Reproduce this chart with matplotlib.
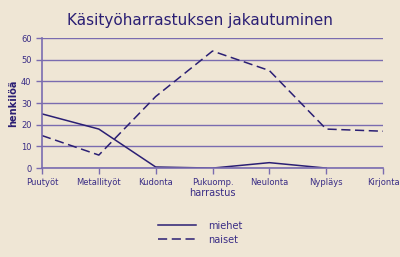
import matplotlib.pyplot as plt

# data
categories = ['Puutyöt', 'Metallityöt', 'Kudonta', 'Pukuomp.', 'Neulonta', 'Nypläys', 'Kirjonta']
miehet = [25, 18, 0.5, 0, 2.5, 0]
naiset = [15, 6, 33, 54, 45, 18, 17]

bg = '#efe6d5'
grid_col = '#7a6cb0'
line_col = '#2b1f74'
text_col = '#3a2d86'

fig = plt.figure(figsize=(4, 2.57), dpi=100, facecolor=bg)
ax = fig.add_axes([0.105, 0.346, 0.8525, 0.506])
ax.set_facecolor(bg)

x_m = list(range(len(miehet)))
x_n = list(range(len(naiset)))
l1, = ax.plot(x_m, miehet, color=line_col, lw=1.1, label='miehet')
l2, = ax.plot(x_n, naiset, color=line_col, lw=1.1, dashes=(6, 3), label='naiset')

ax.set_xlim(0, len(categories) - 1)
ax.set_ylim(0, 60)
ax.set_yticks(range(0, 61, 10))
ax.set_xticks(range(len(categories)))
ax.set_xticklabels(categories)
ax.yaxis.grid(True, color=grid_col, lw=1)
ax.set_axisbelow(True)

for s in ['top', 'right']:
    ax.spines[s].set_visible(False)
ax.spines['left'].set_color(grid_col)
ax.spines['bottom'].set_color(grid_col)
ax.spines['left'].set_linewidth(1.2)
ax.spines['bottom'].set_linewidth(1.2)

ax.tick_params(axis='both', colors=grid_col, labelcolor=text_col, labelsize=6, length=4, width=1)
ax.tick_params(axis='x', direction='out', pad=3)

ax.set_ylabel('henkilöä', fontsize=7, fontweight='bold', color=line_col, labelpad=2)
ax.set_xlabel('harrastus', fontsize=7, color=text_col, labelpad=1)

fig.text(0.5, 0.92, 'Käsityöharrastuksen jakautuminen', ha='center', va='center',
         fontsize=11, color=line_col)

fig.legend(handles=[l1, l2], loc='center', bbox_to_anchor=(0.5, 0.095), frameon=False,
           fontsize=7, labelcolor=text_col, handlelength=4, handletextpad=1.2, labelspacing=0.4)

fig.savefig('out.png', dpi=100, facecolor=bg)
